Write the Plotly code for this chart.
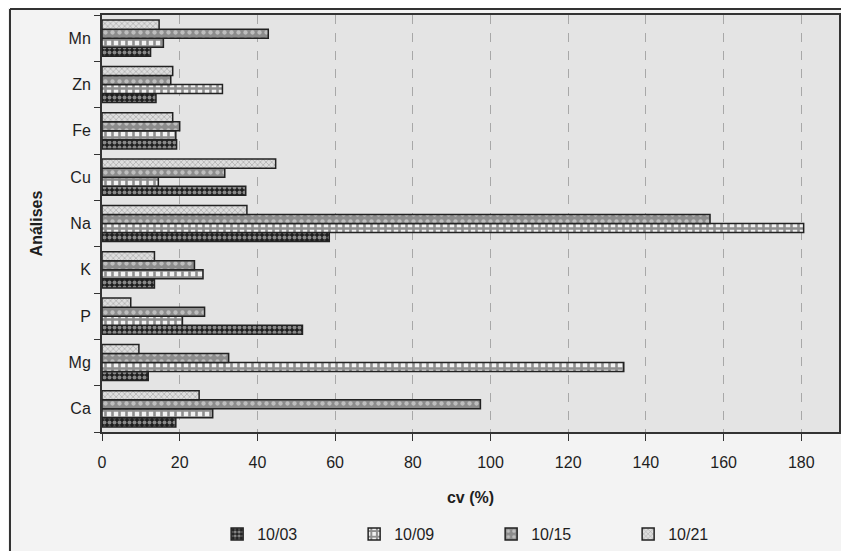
import plotly.graph_objects as go

categories = ["Ca", "Mg", "P", "K", "Na", "Cu", "Fe", "Zn", "Mn"]
series_names = ["10/03", "10/09", "10/15", "10/21"]
v_1003 = [19.0, 11.9, 51.6, 13.5, 58.5, 37.0, 19.2, 13.9, 12.5]
v_1009 = [28.5, 134.3, 20.7, 26.0, 180.6, 14.5, 19.0, 31.0, 15.8]
v_1015 = [97.4, 32.6, 26.4, 23.8, 156.5, 31.6, 20.0, 17.7, 42.8]
v_1021 = [25.0, 9.5, 7.4, 13.5, 37.3, 44.7, 18.2, 18.2, 14.7]
x_ticks = [0, 20, 40, 60, 80, 100, 120, 140, 160, 180]

values = [v_1003, v_1009, v_1015, v_1021]
styles = [
    dict(bg="#1e1e1e", fg="#f2f2f2", shape=".", size=5, sol=0.5),
    dict(bg="#f2f2f2", fg="#2a2a2a", shape="+", size=7, sol=0.6),
    dict(bg="#8c8c8c", fg="#f0f0f0", shape=".", size=7, sol=0.3),
    dict(bg="#dedede", fg="#707070", shape="x", size=4, sol=0.3),
]

fig = go.Figure()
for name, vals, st in zip(series_names, values, styles):
    fig.add_trace(go.Bar(
        y=categories, x=vals, name=name, orientation="h",
        marker=dict(
            color=st["bg"],
            line=dict(color="#222222", width=1.5),
            pattern=dict(shape=st["shape"], fgcolor=st["fg"], bgcolor=st["bg"],
                         size=st["size"], solidity=st["sol"], fillmode="overlay"),
        ),
    ))

# page body adds an 8px offset; figure sized to fit inside the 849x551 window
W, H = 841, 543
L, R, T = 94, 10, 7
PH = 417
B = H - T - PH
PW = W - L - R

font = "Liberation Sans, Arial, sans-serif"
fig.update_layout(
    width=W, height=H,
    margin=dict(l=L, r=R, t=T, b=B, autoexpand=False),
    barmode="group", bargap=0.22, bargroupgap=0.0,
    plot_bgcolor="#e4e4e4", paper_bgcolor="#f3f3f3",
    font=dict(family=font, size=16, color="#1e1e1e"),
    showlegend=True,
    legend=dict(orientation="h", x=0.528, xanchor="center", y=-85 / PH, yanchor="top",
                traceorder="normal", font=dict(size=16), itemwidth=30,
                entrywidth=92, entrywidthmode="pixels",
                bgcolor="rgba(0,0,0,0)"),
    xaxis=dict(
        range=[0, 189.7], tickvals=x_ticks, ticktext=[str(t) for t in x_ticks],
        showgrid=True, gridcolor="#a8a8a8", griddash="dash", gridwidth=1,
        ticks="outside", ticklen=7, tickcolor="#333333", ticklabelstandoff=8,
        showline=True, linecolor="#333333", linewidth=2, mirror=True,
        zeroline=False,
        title=dict(text="<b>cv (%)</b>", font=dict(size=16), standoff=22),
        tickfont=dict(size=16),
    ),
    yaxis=dict(
        type="category", categoryorder="array", categoryarray=categories,
        ticks="outside", tickson="boundaries", ticklen=6, tickcolor="#333333",
        ticklabelstandoff=6,
        showline=True, linecolor="#333333", linewidth=2, mirror=True,
        showgrid=False,
        title=dict(text="<b>Análises</b>", font=dict(size=16), standoff=22),
        tickfont=dict(size=16),
    ),
    shapes=[
        dict(type="line", xref="paper", yref="paper", x0=(2 - L) / PW, x1=1.2,
             y0=1 + 6 / PH, y1=1 + 6 / PH, line=dict(color="#333333", width=2)),
        dict(type="line", xref="paper", yref="paper", x0=(2 - L) / PW, x1=(2 - L) / PW,
             y0=1 + 6 / PH, y1=-0.5, line=dict(color="#333333", width=2)),
    ],
)

fig.write_html("out.html")
